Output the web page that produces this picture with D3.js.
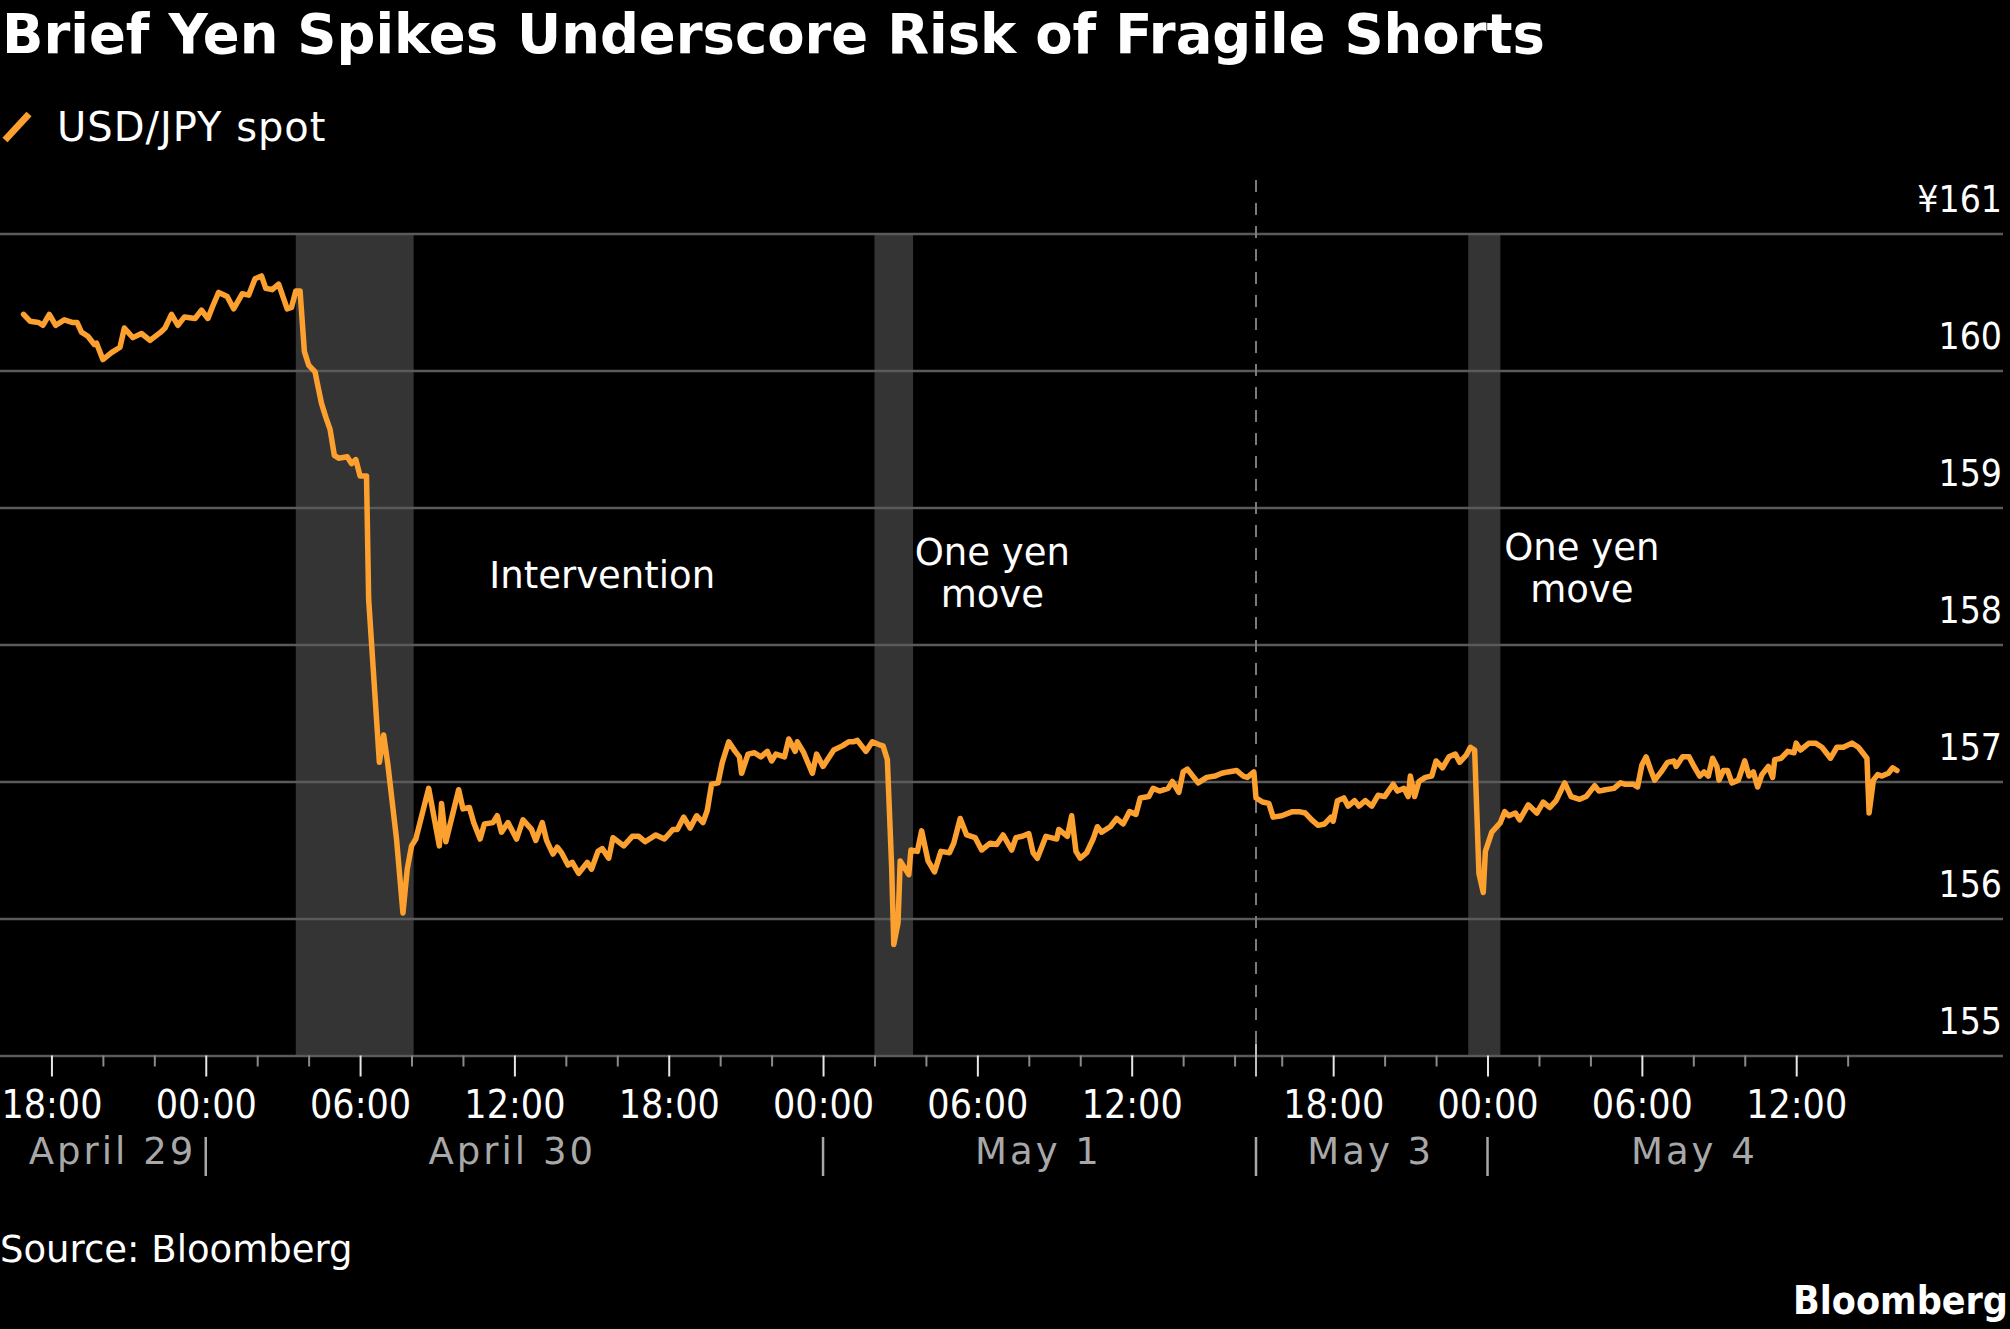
<!DOCTYPE html>
<html>
<head>
<meta charset="utf-8">
<script src="https://cdn.jsdelivr.net/npm/d3@7"></script>
<style>
  html, body { margin: 0; padding: 0; background: #000; }
  svg { display: block; }
</style>
</head>
<body>
<div id="chart"></div>
<script>
// USD/JPY spot (time as MM-DD HH:MM, 2024)
const times = [
  '04-29 16:55','04-29 17:10','04-29 17:30','04-29 17:40','04-29 17:55','04-29 18:10','04-29 18:30','04-29 18:50',
  '04-29 19:00','04-29 19:10','04-29 19:25','04-29 19:40','04-29 19:45','04-29 20:00','04-29 20:20','04-29 20:40',
  '04-29 20:50','04-29 21:10','04-29 21:30','04-29 21:50','04-29 22:15','04-29 22:25','04-29 22:40','04-29 22:55',
  '04-29 23:10','04-29 23:35','04-29 23:50',
  '04-30 00:05','04-30 00:15','04-30 00:30','04-30 00:50','04-30 01:05','04-30 01:25','04-30 01:40','04-30 01:55',
  '04-30 02:10','04-30 02:20','04-30 02:35','04-30 02:50','04-30 03:10','04-30 03:20','04-30 03:30','04-30 03:40',
  '04-30 03:50','04-30 04:00','04-30 04:15','04-30 04:20','04-30 04:30','04-30 04:40','04-30 04:50','04-30 05:00',
  '04-30 05:10','04-30 05:30','04-30 05:40','04-30 05:50','04-30 06:00','04-30 06:15','04-30 06:20','04-30 06:45',
  '04-30 06:55','04-30 07:05','04-30 07:25','04-30 07:40','04-30 07:50','04-30 08:00','04-30 08:10','04-30 08:40',
  '04-30 09:05','04-30 09:10','04-30 09:20','04-30 09:50','04-30 10:00','04-30 10:15','04-30 10:25','04-30 10:40',
  '04-30 10:50','04-30 11:10','04-30 11:20','04-30 11:30','04-30 11:45','04-30 12:05','04-30 12:20','04-30 12:40',
  '04-30 12:50','04-30 13:05','04-30 13:15','04-30 13:30','04-30 13:40','04-30 13:50','04-30 14:05','04-30 14:15',
  '04-30 14:30','04-30 14:50','04-30 15:00','04-30 15:15','04-30 15:25','04-30 15:40','04-30 15:50','04-30 16:15',
  '04-30 16:35','04-30 16:50','04-30 17:05','04-30 17:30','04-30 17:50','04-30 18:10','04-30 18:20','04-30 18:35',
  '04-30 18:50','04-30 19:05','04-30 19:20','04-30 19:30','04-30 19:40','04-30 19:55','04-30 20:05','04-30 20:20',
  '04-30 20:35','04-30 20:45','04-30 20:50','04-30 21:05','04-30 21:20','04-30 21:35','04-30 21:50','04-30 22:00',
  '04-30 22:10','04-30 22:30','04-30 22:40','04-30 22:55','04-30 23:00','04-30 23:15','04-30 23:35','04-30 23:45',
  '05-01 00:00','05-01 00:25','05-01 00:45','05-01 01:00','05-01 01:10','05-01 01:20','05-01 01:40','05-01 01:55',
  '05-01 02:10','05-01 02:20','05-01 02:30','05-01 02:40','05-01 02:45','05-01 02:55','05-01 03:00','05-01 03:20',
  '05-01 03:25','05-01 03:40','05-01 03:50','05-01 04:05','05-01 04:20','05-01 04:35','05-01 04:55','05-01 05:05',
  '05-01 05:20','05-01 05:35','05-01 05:55','05-01 06:10','05-01 06:30','05-01 06:45','05-01 07:00','05-01 07:20',
  '05-01 07:30','05-01 07:45','05-01 08:00','05-01 08:10','05-01 08:20','05-01 08:40','05-01 09:05','05-01 09:10',
  '05-01 09:30','05-01 09:40','05-01 09:50','05-01 10:00','05-01 10:15','05-01 10:30','05-01 10:40','05-01 10:50',
  '05-01 11:10','05-01 11:25','05-01 11:40','05-01 11:55','05-01 12:10','05-01 12:20','05-01 12:40','05-01 12:50',
  '05-01 13:05','05-01 13:25','05-01 13:35','05-01 13:50','05-01 14:00','05-01 14:10','05-01 14:25','05-01 14:35',
  '05-01 14:55','05-01 15:15','05-01 15:30','05-01 15:45','05-01 16:05','05-01 16:20','05-01 16:30','05-01 16:45',
  '05-03 15:00','05-03 15:15','05-03 15:30','05-03 15:40','05-03 16:00','05-03 16:25','05-03 16:40','05-03 16:55',
  '05-03 17:10','05-03 17:25','05-03 17:40','05-03 17:55','05-03 18:00','05-03 18:10','05-03 18:25','05-03 18:35',
  '05-03 18:50','05-03 19:00','05-03 19:15','05-03 19:30','05-03 19:45','05-03 20:00','05-03 20:20','05-03 20:30',
  '05-03 20:45','05-03 20:55','05-03 21:00','05-03 21:10','05-03 21:20','05-03 21:35','05-03 21:50','05-03 22:00',
  '05-03 22:15','05-03 22:30','05-03 22:45','05-03 22:55','05-03 23:10','05-03 23:20','05-03 23:30','05-03 23:40',
  '05-03 23:50','05-03 23:55',
  '05-04 00:10','05-04 00:30','05-04 00:40','05-04 00:50','05-04 01:05','05-04 01:15','05-04 01:35','05-04 01:55',
  '05-04 02:10','05-04 02:25','05-04 02:40','05-04 03:00','05-04 03:15','05-04 03:35','05-04 03:50','05-04 04:10',
  '05-04 04:20','05-04 04:35','05-04 04:55','05-04 05:10','05-04 05:20','05-04 05:40','05-04 05:50','05-04 06:00',
  '05-04 06:10','05-04 06:20','05-04 06:30','05-04 06:45','05-04 07:00','05-04 07:15','05-04 07:20','05-04 07:35',
  '05-04 07:50','05-04 08:00','05-04 08:15','05-04 08:25','05-04 08:35','05-04 08:45','05-04 08:55','05-04 09:00',
  '05-04 09:10','05-04 09:20','05-04 09:30','05-04 09:45','05-04 10:00','05-04 10:10','05-04 10:20','05-04 10:30',
  '05-04 10:40','05-04 10:55','05-04 11:05','05-04 11:10','05-04 11:25','05-04 11:40','05-04 11:55','05-04 12:00',
  '05-04 12:10','05-04 12:30','05-04 12:45','05-04 13:00','05-04 13:15','05-04 13:20','05-04 13:35','05-04 13:50',
  '05-04 14:10','05-04 14:25','05-04 14:35','05-04 14:45','05-04 14:50','05-04 15:00','05-04 15:10','05-04 15:20',
  '05-04 15:35','05-04 15:45','05-04 15:55'
]
const values = [
  160.41,160.36,160.35,160.33,160.41,160.33,160.37,160.35,
  160.35,160.28,160.25,160.19,160.20,160.08,160.13,160.17,
  160.31,160.24,160.27,160.22,160.28,160.31,160.41,160.33,
  160.39,160.38,160.44,
  160.38,160.46,160.57,160.54,160.45,160.56,160.55,160.67,
  160.69,160.60,160.59,160.63,160.45,160.46,160.58,160.58,
  160.14,160.04,159.99,159.91,159.76,159.66,159.57,159.38,
  159.36,159.37,159.32,159.35,159.23,159.23,158.33,157.14,
  157.34,157.12,156.58,156.04,156.36,156.53,156.58,156.95,
  156.53,156.84,156.56,156.94,156.80,156.81,156.70,156.58,
  156.69,156.70,156.75,156.63,156.70,156.58,156.72,156.65,
  156.57,156.70,156.57,156.47,156.52,156.48,156.39,156.41,
  156.33,156.41,156.36,156.49,156.51,156.44,156.59,156.53,
  156.60,156.60,156.56,156.61,156.58,156.65,156.65,156.74,
  156.66,156.75,156.70,156.79,156.98,156.99,157.14,157.29,
  157.22,157.18,157.06,157.20,157.21,157.18,157.22,157.15,
  157.20,157.18,157.31,157.22,157.29,157.21,157.06,157.20,
  157.11,157.23,157.26,157.29,157.29,157.30,157.22,157.29,
  157.27,157.26,157.16,156.38,155.81,155.97,156.42,156.32,
  156.50,156.49,156.64,156.42,156.34,156.49,156.48,156.55,
  156.73,156.61,156.59,156.50,156.55,156.54,156.61,156.50,
  156.59,156.60,156.62,156.48,156.44,156.60,156.58,156.65,
  156.60,156.75,156.49,156.44,156.48,156.58,156.67,156.63,
  156.67,156.73,156.69,156.78,156.76,156.88,156.89,156.95,
  156.93,156.95,157.00,156.92,157.07,157.09,157.03,156.99,
  157.03,157.04,157.06,157.07,157.08,157.04,157.03,157.07,
  156.88,156.85,156.84,156.74,156.75,156.78,156.78,156.77,
  156.72,156.68,156.69,156.74,156.71,156.86,156.88,156.82,
  156.86,156.82,156.86,156.82,156.90,156.89,156.98,156.93,
  156.95,156.89,157.04,156.89,157.00,157.03,157.04,157.15,
  157.10,157.18,157.20,157.14,157.19,157.25,157.23,156.33,
  156.19,156.49,
  156.63,156.70,156.78,156.75,156.77,156.72,156.83,156.77,
  156.85,156.81,156.86,156.99,156.89,156.87,156.89,156.97,
  156.93,156.94,156.95,156.99,156.98,156.98,156.96,157.12,
  157.18,157.09,157.01,157.07,157.14,157.15,157.11,157.18,
  157.18,157.12,157.04,157.07,157.04,157.17,157.11,157.01,
  157.08,157.08,156.99,157.01,157.15,157.04,157.07,156.96,
  157.05,157.11,157.03,157.16,157.17,157.22,157.21,157.28,
  157.23,157.28,157.28,157.25,157.19,157.17,157.25,157.25,
  157.28,157.25,157.21,157.17,156.77,157.01,157.05,157.04,
  157.06,157.10,157.08
]

// time axis: two sessions, May 2 left out
const sessions = [['04-29 16:00', '05-01 16:50'], ['05-03 15:00', '05-04 20:00']]
const yTicks = [155, 156, 157, 158, 159, 160, 161]
const bands = [['04-30 03:30', '04-30 08:05'], ['05-01 02:00', '05-01 03:30'], ['05-03 23:15', '05-04 00:30']]
const days = ['04-29', '04-30', '05-01', '05-03', '05-04']
const dayNames = ['April 29', 'April 30', 'May 1', 'May 3', 'May 4']
const notes = [
  { lines: ['Intervention'], time: '04-30 15:25', value: 158.41 },
  { lines: ['One yen', 'move'], time: '05-01 06:35', value: 158.58 },
  { lines: ['One yen', 'move'], time: '05-04 03:40', value: 158.62 }
]

const parse = s => d3.timeParse('%Y-%m-%d %H:%M')('2024-' + s)
const data = times.map((t, i) => ({ date: parse(t), value: values[i] }))

const width = 2010
const height = 1329
const orange = '#fca12f'
const grey = '#5a5a5a'

const svg = d3.select('#chart')
  .append('svg')
  .attr('width', width)
  .attr('height', height)
  .style('background', '#000')

const xRight = 2002
const x = d3.scaleTime()
  .domain([parse(sessions[0][0]), parse(sessions[0][1]), parse(sessions[1][0]), parse(sessions[1][1])])
  .range([0, 1256, 1256, xRight])

const y = d3.scaleLinear()
  .domain([155, 161])
  .range([1055.5, 233.5])

const breakX = x(parse(sessions[0][1]))

// shaded episodes
svg.append('g')
  .selectAll('rect')
  .data(bands)
  .enter()
  .append('rect')
  .attr('x', d => x(parse(d[0])))
  .attr('width', d => x(parse(d[1])) - x(parse(d[0])))
  .attr('y', y(161))
  .attr('height', y(155) - y(161))
  .attr('fill', '#343434')

// gridlines + y labels
const yAxis = svg.append('g')
  .attr('transform', 'translate(2003,0)')
  .call(d3.axisLeft(y)
    .tickValues(yTicks)
    .tickSize(2003)
    .tickFormat(d => d === 161 ? '¥' + d : d))
yAxis.select('.domain').remove()
yAxis.selectAll('line').attr('stroke', grey).attr('stroke-width', 2.5)
yAxis.selectAll('text')
  .attr('x', -1)
  .attr('dy', -22)
  .attr('text-anchor', 'end')
  .style('font-family', 'DejaVu Sans Condensed')
  .style('font-size', '37px')
  .attr('fill', '#fff')

// dashed line at the weekend break
svg.append('line')
  .attr('x1', breakX).attr('x2', breakX)
  .attr('y1', 180).attr('y2', y(155))
  .attr('stroke', '#7a7a7a')
  .attr('stroke-width', 2)
  .attr('stroke-dasharray', '12,11')

// x ticks, every 2h inside each session's data
const first = data[0].date
const last = data[data.length - 1].date
const s1End = data.filter(d => d.date <= parse(sessions[0][1])).pop().date
const s2Start = data.find(d => d.date >= parse(sessions[1][0])).date
let tickDates = d3.timeHour.every(2).range(first, s1End)
  .concat(d3.timeHour.every(2).range(s2Start, last))
const majors = tickDates.filter(d => d.getHours() % 6 === 0)
const minors = tickDates.filter(d => d.getHours() % 6 !== 0)

const axisY = y(155)
const minorAxis = svg.append('g')
  .attr('transform', `translate(0,${axisY})`)
  .call(d3.axisBottom(x).tickValues(minors).tickSize(11).tickFormat(''))
minorAxis.select('.domain').remove()
minorAxis.selectAll('line').attr('stroke', '#8a8a8a').attr('stroke-width', 2)

const majorAxis = svg.append('g')
  .attr('transform', `translate(0,${axisY})`)
  .call(d3.axisBottom(x).tickValues(majors).tickSize(21).tickPadding(0).tickFormat(d3.timeFormat('%H:%M')))
majorAxis.select('.domain').remove()
majorAxis.selectAll('line').attr('stroke', '#e6e6e6').attr('stroke-width', 2)
majorAxis.selectAll('text')
  .attr('y', 0)
  .attr('dy', 0)
  .attr('transform', 'translate(0,62)')
  .style('font-family', 'DejaVu Sans Condensed')
  .style('font-size', '39px')
  .attr('fill', '#fff')

// break tick
svg.append('line')
  .attr('x1', breakX).attr('x2', breakX)
  .attr('y1', axisY - 12).attr('y2', axisY + 21)
  .attr('stroke', '#bdbdbd')
  .attr('stroke-width', 2)

// day labels centred over each day's data, with separators
const dayG = svg.append('g')
days.forEach((day, i) => {
  const inDay = data.filter(d => d3.timeFormat('%m-%d')(d.date) === day)
  const x0 = x(inDay[0].date)
  const x1 = x(inDay[inDay.length - 1].date)
  dayG.append('text')
    .attr('x', (x0 + x1) / 2)
    .attr('y', 1164)
    .attr('text-anchor', 'middle')
    .style('font-family', 'DejaVu Sans')
    .style('font-size', '37px')
    .style('letter-spacing', '3px')
    .attr('fill', '#a8a8a8')
    .text(dayNames[i])
})
const seps = [parse('04-30 00:00'), parse('05-01 00:00'), parse(sessions[0][1]), parse('05-04 00:00')]
dayG.selectAll('line')
  .data(seps)
  .enter()
  .append('line')
  .attr('x1', d => x(d)).attr('x2', d => x(d))
  .attr('y1', 1137).attr('y2', 1176)
  .attr('stroke', '#a8a8a8')
  .attr('stroke-width', 2.5)

// the series
const line = d3.line()
  .x(d => x(d.date))
  .y(d => y(d.value))
svg.append('path')
  .datum(data)
  .attr('d', line)
  .attr('fill', 'none')
  .attr('stroke', orange)
  .attr('stroke-width', 5.5)
  .attr('stroke-linejoin', 'round')
  .attr('stroke-linecap', 'round')

// annotations
notes.forEach(n => {
  const t = svg.append('text')
    .attr('x', x(parse(n.time)))
    .attr('y', y(n.value))
    .attr('text-anchor', 'middle')
    .style('font-family', 'DejaVu Sans')
    .style('font-size', '37px')
    .attr('fill', '#fff')
  n.lines.forEach((l, i) => {
    t.append('tspan')
      .attr('x', x(parse(n.time)))
      .attr('dy', i === 0 ? 0 : 42)
      .text(l)
  })
})

// title, legend, footer
svg.append('text')
  .attr('x', 2)
  .attr('y', 53)
  .style('font-family', 'DejaVu Sans')
  .style('font-weight', 'bold')
  .style('font-size', '54.4px')
  .attr('fill', '#fff')
  .text('Brief Yen Spikes Underscore Risk of Fragile Shorts')

svg.append('line')
  .attr('x1', 5).attr('y1', 140)
  .attr('x2', 29).attr('y2', 114)
  .attr('stroke', orange)
  .attr('stroke-width', 7)

svg.append('text')
  .attr('x', 57)
  .attr('y', 141)
  .style('font-family', 'DejaVu Sans')
  .style('font-size', '40px')
  .style('letter-spacing', '1px')
  .attr('fill', '#fff')
  .text('USD/JPY spot')

svg.append('text')
  .attr('x', 0)
  .attr('y', 1262)
  .style('font-family', 'DejaVu Sans')
  .style('font-size', '37px')
  .attr('fill', '#fff')
  .text('Source: Bloomberg')

svg.append('text')
  .attr('x', 2008)
  .attr('y', 1314)
  .attr('text-anchor', 'end')
  .style('font-family', 'DejaVu Sans Condensed')
  .style('font-weight', 'bold')
  .style('font-size', '39px')
  .attr('fill', '#fff')
  .text('Bloomberg')
</script>
</body>
</html>
